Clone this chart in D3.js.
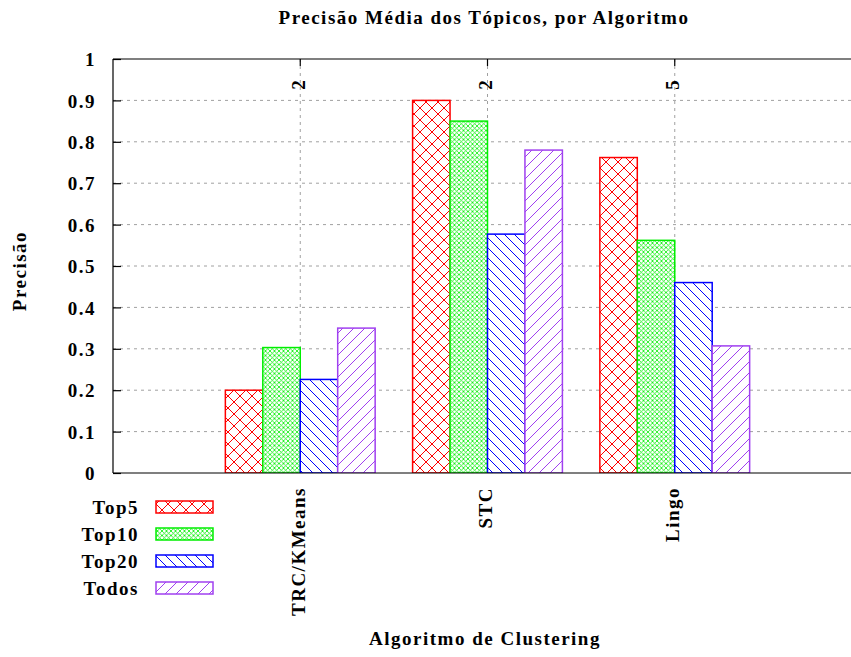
<!DOCTYPE html>
<html>
<head>
<meta charset="utf-8">
<script src="https://cdn.jsdelivr.net/npm/d3@7"></script>
<style>
  html, body { margin: 0; padding: 0; background: #fff; }
  svg text { font-family: "Liberation Serif", "DejaVu Serif", serif; font-weight: bold; font-size: 19px; letter-spacing: 1.5px; fill: #000; }
</style>
</head>
<body>
<svg id="chart" width="851" height="657"></svg>
<script>
// ---- data ----
const categories = ["TRC/KMeans", "STC", "Lingo"];
const seriesNames = ["Top5", "Top10", "Top20", "Todos"];
const top5  = [0.200, 0.900, 0.762];
const top10 = [0.303, 0.850, 0.562];
const top20 = [0.226, 0.577, 0.460];
const todos = [0.350, 0.780, 0.307];
const topLabels = ["2", "2", "5"];
const yTickValues = [0, 0.1, 0.2, 0.3, 0.4, 0.5, 0.6, 0.7, 0.8, 0.9, 1];
const yTickLabels = ["0", "0.1", "0.2", "0.3", "0.4", "0.5", "0.6", "0.7", "0.8", "0.9", "1"];
const titleText = "Precisão Média dos Tópicos, por Algoritmo";
const yTitle = "Precisão";
const xTitle = "Algoritmo de Clustering";

const seriesValues = [top5, top10, top20, todos];
const colors = ["#ff0000", "#00ee00", "#0000ff", "#a040f0"];

// ---- layout ----
const svg = d3.select("#chart");
const pL = 113, pR = 862, pT = 59, pB = 473;

const x = d3.scaleLinear().domain([-1, 3]).range([pL, pR]);
const y = d3.scaleLinear().domain([0, 1]).range([pB, pT]);
const band = d3.scaleBand().domain(seriesNames).range([-0.4, 0.4]);

// ---- patterns ----
const defs = svg.append("defs");
function pattern(id, size, d, color, sw) {
  const p = defs.append("pattern").attr("id", id)
    .attr("patternUnits", "userSpaceOnUse").attr("width", size).attr("height", size);
  p.append("rect").attr("width", size).attr("height", size).attr("fill", "#fff");
  p.append("path").attr("d", d).attr("stroke", color).attr("stroke-width", sw).attr("fill", "none");
}
pattern("p0", 12, "M0,0L12,12M12,0L0,12M-2,10L2,14M10,-2L14,2M-2,2L2,-2M10,14L14,10", colors[0], 1);
pattern("p1", 4.5, "M0,0L4.5,4.5M4.5,0L0,4.5", colors[1], 0.8);
pattern("p2", 10, "M0,0L10,10M-2,8L2,12M8,-2L12,2", colors[2], 1);
pattern("p3", 11, "M0,11L11,0M-2,2L2,-2M9,13L13,9", colors[3], 1);

const clip = defs.append("clipPath").attr("id", "plotclip");
clip.append("rect").attr("x", pL).attr("y", pT).attr("width", pR - pL).attr("height", pB - pT);

// ---- grid ----
const grid = svg.append("g").attr("stroke", "#a0a0a0").attr("stroke-width", 1).attr("stroke-dasharray", "3,4");
grid.selectAll("line.h").data(yTickValues.filter(v => v > 0 && v < 1)).join("line")
  .attr("x1", pL).attr("x2", 851).attr("y1", d => y(d)).attr("y2", d => y(d));
grid.selectAll("line.v").data(categories).join("line")
  .attr("x1", (d, i) => x(i)).attr("x2", (d, i) => x(i)).attr("y1", pT).attr("y2", pB);

// ---- bars ----
const plot = svg.append("g").attr("clip-path", "url(#plotclip)");
seriesNames.forEach((s, si) => {
  plot.append("g").selectAll("rect").data(seriesValues[si]).join("rect")
    .attr("x", (d, i) => x(i + band(s)))
    .attr("width", (d, i) => x(i + band(s) + band.bandwidth()) - x(i + band(s)))
    .attr("y", d => y(d))
    .attr("height", d => y(0) - y(d))
    .attr("fill", `url(#p${si})`)
    .attr("stroke", colors[si]).attr("stroke-width", 1.5);
});

// ---- axes / border ----
const border = svg.append("g").attr("stroke", "#000").attr("stroke-width", 1.2);
border.append("line").attr("x1", pL).attr("x2", pL).attr("y1", pT).attr("y2", pB);
border.append("line").attr("x1", pL).attr("x2", 851).attr("y1", pT).attr("y2", pT);
border.append("line").attr("x1", pL).attr("x2", 851).attr("y1", pB).attr("y2", pB);

// y axis ticks (inward) and labels
const yAxis = d3.axisLeft(y).tickValues(yTickValues).tickSize(-8).tickPadding(0)
  .tickFormat((d, i) => yTickLabels[i]);
const gy = svg.append("g").attr("transform", `translate(${pL},0)`).call(yAxis);
gy.attr("font-size", null).attr("font-family", null);
gy.select(".domain").remove();
gy.selectAll(".tick line").attr("stroke", "#000").attr("stroke-width", 1.2);
gy.selectAll(".tick text").attr("x", 96 - pL).attr("dy", "0.35em").attr("fill", "#000");

// top (x2) ticks and labels
svg.append("g").selectAll("line").data(categories).join("line")
  .attr("x1", (d, i) => x(i)).attr("x2", (d, i) => x(i))
  .attr("y1", pT).attr("y2", pT + 7).attr("stroke", "#000").attr("stroke-width", 1.2);
svg.append("g").selectAll("text").data(topLabels).join("text")
  .attr("transform", (d, i) => `translate(${x(i) - 2},${85}) rotate(-90)`)
  .attr("text-anchor", "middle").attr("dy", "0.35em").style("letter-spacing", "0px")
  .text(d => d);

// bottom category labels
svg.append("g").selectAll("text").data(categories).join("text")
  .attr("transform", (d, i) => `translate(${x(i) - 2},${487}) rotate(-90)`)
  .attr("text-anchor", "end").attr("dy", "0.35em")
  .text(d => d);

// titles
svg.append("text").attr("x", 484).attr("y", 24).attr("text-anchor", "middle").text(titleText);
svg.append("text").attr("x", 485).attr("y", 645).attr("text-anchor", "middle").text(xTitle);
svg.append("text").attr("transform", "translate(26,271) rotate(-90)").attr("text-anchor", "middle").text(yTitle);

// ---- legend ----
const legend = svg.append("g");
seriesNames.forEach((s, si) => {
  const cy = 507 + si * 27;
  legend.append("text").attr("x", 139).attr("y", cy).attr("dy", "0.35em")
    .attr("text-anchor", "end").text(s);
  legend.append("rect").attr("x", 156).attr("y", cy - 6).attr("width", 57).attr("height", 12)
    .attr("fill", `url(#p${si})`).attr("stroke", colors[si]).attr("stroke-width", 1.5);
});
</script>
</body>
</html>
